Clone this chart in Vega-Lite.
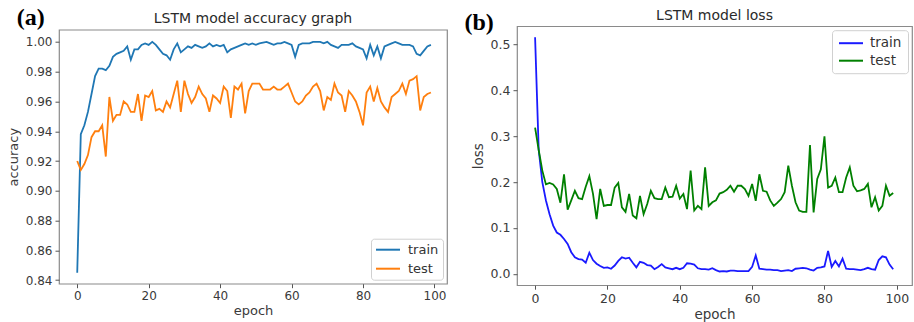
{
  "$schema": "https://vega.github.io/schema/vega-lite/v6.json",
  "background": "white",
  "padding": {"left": 6, "top": 6, "right": 0, "bottom": 0},
  "config": {
    "font": "DejaVu Sans",
    "view": {"stroke": "#8a8a8a", "strokeWidth": 1.2},
    "axis": {"domain": false, "grid": false, "tickColor": "#555555", "tickSize": 4, "tickWidth": 1, "labelColor": "#3a3a3a", "titleColor": "#3a3a3a", "labelFont": "DejaVu Sans", "titleFont": "DejaVu Sans", "titleFontWeight": "normal", "labelPadding": 3},
    "legend": {"symbolType": "M-1,0H3", "symbolStrokeWidth": 2, "symbolSize": 144, "labelFont": "DejaVu Sans", "labelColor": "#333333", "strokeColor": "#d0d0d0", "fillColor": "white", "cornerRadius": 3, "offset": 4, "title": null},
    "title": {"font": "DejaVu Sans", "fontWeight": "normal", "color": "#2a2a2a"},
    "concat": {"spacing": 16}
  },
  "datasets": {
    "accuracy": [
      {"epoch":0,"series":"train","value":0.845},{"epoch":1,"series":"train","value":0.938},{"epoch":2,"series":"train","value":0.944},{"epoch":3,"series":"train","value":0.953},{"epoch":4,"series":"train","value":0.965},{"epoch":5,"series":"train","value":0.977},{"epoch":6,"series":"train","value":0.982},{"epoch":7,"series":"train","value":0.982},{"epoch":8,"series":"train","value":0.981},{"epoch":9,"series":"train","value":0.984},
      {"epoch":10,"series":"train","value":0.990},{"epoch":11,"series":"train","value":0.992},{"epoch":12,"series":"train","value":0.993},{"epoch":13,"series":"train","value":0.994},{"epoch":14,"series":"train","value":0.997},{"epoch":15,"series":"train","value":0.988},{"epoch":16,"series":"train","value":0.995},{"epoch":17,"series":"train","value":0.995},{"epoch":18,"series":"train","value":0.998},{"epoch":19,"series":"train","value":0.999},
      {"epoch":20,"series":"train","value":0.998},{"epoch":21,"series":"train","value":1.000},{"epoch":22,"series":"train","value":0.998},{"epoch":23,"series":"train","value":0.995},{"epoch":24,"series":"train","value":0.992},{"epoch":25,"series":"train","value":0.991},{"epoch":26,"series":"train","value":0.988},{"epoch":27,"series":"train","value":0.995},{"epoch":28,"series":"train","value":0.999},{"epoch":29,"series":"train","value":0.993},
      {"epoch":30,"series":"train","value":0.995},{"epoch":31,"series":"train","value":0.997},{"epoch":32,"series":"train","value":0.996},{"epoch":33,"series":"train","value":0.998},{"epoch":34,"series":"train","value":0.997},{"epoch":35,"series":"train","value":0.996},{"epoch":36,"series":"train","value":0.997},{"epoch":37,"series":"train","value":0.999},{"epoch":38,"series":"train","value":0.997},{"epoch":39,"series":"train","value":0.998},
      {"epoch":40,"series":"train","value":0.997},{"epoch":41,"series":"train","value":0.998},{"epoch":42,"series":"train","value":0.993},{"epoch":43,"series":"train","value":0.995},{"epoch":44,"series":"train","value":0.996},{"epoch":45,"series":"train","value":0.997},{"epoch":46,"series":"train","value":0.998},{"epoch":47,"series":"train","value":0.999},{"epoch":48,"series":"train","value":0.998},{"epoch":49,"series":"train","value":0.999},
      {"epoch":50,"series":"train","value":0.998},{"epoch":51,"series":"train","value":0.999},{"epoch":52,"series":"train","value":0.9995},{"epoch":53,"series":"train","value":1.000},{"epoch":54,"series":"train","value":0.999},{"epoch":55,"series":"train","value":0.998},{"epoch":56,"series":"train","value":0.999},{"epoch":57,"series":"train","value":0.999},{"epoch":58,"series":"train","value":1.000},{"epoch":59,"series":"train","value":0.999},
      {"epoch":60,"series":"train","value":0.998},{"epoch":61,"series":"train","value":0.990},{"epoch":62,"series":"train","value":0.998},{"epoch":63,"series":"train","value":0.999},{"epoch":64,"series":"train","value":0.999},{"epoch":65,"series":"train","value":0.999},{"epoch":66,"series":"train","value":1.000},{"epoch":67,"series":"train","value":1.000},{"epoch":68,"series":"train","value":1.000},{"epoch":69,"series":"train","value":0.999},
      {"epoch":70,"series":"train","value":1.000},{"epoch":71,"series":"train","value":0.998},{"epoch":72,"series":"train","value":0.997},{"epoch":73,"series":"train","value":0.996},{"epoch":74,"series":"train","value":0.998},{"epoch":75,"series":"train","value":0.998},{"epoch":76,"series":"train","value":0.998},{"epoch":77,"series":"train","value":0.999},{"epoch":78,"series":"train","value":0.997},{"epoch":79,"series":"train","value":0.996},
      {"epoch":80,"series":"train","value":0.995},{"epoch":81,"series":"train","value":0.989},{"epoch":82,"series":"train","value":0.998},{"epoch":83,"series":"train","value":0.991},{"epoch":84,"series":"train","value":0.997},{"epoch":85,"series":"train","value":0.989},{"epoch":86,"series":"train","value":0.997},{"epoch":87,"series":"train","value":0.998},{"epoch":88,"series":"train","value":0.999},{"epoch":89,"series":"train","value":1.000},
      {"epoch":90,"series":"train","value":0.999},{"epoch":91,"series":"train","value":0.998},{"epoch":92,"series":"train","value":0.998},{"epoch":93,"series":"train","value":0.998},{"epoch":94,"series":"train","value":0.997},{"epoch":95,"series":"train","value":0.992},{"epoch":96,"series":"train","value":0.991},{"epoch":97,"series":"train","value":0.994},{"epoch":98,"series":"train","value":0.997},{"epoch":99,"series":"train","value":0.998},
      {"epoch":0,"series":"test","value":0.920},{"epoch":1,"series":"test","value":0.914},{"epoch":2,"series":"test","value":0.918},{"epoch":3,"series":"test","value":0.924},{"epoch":4,"series":"test","value":0.936},{"epoch":5,"series":"test","value":0.940},{"epoch":6,"series":"test","value":0.940},{"epoch":7,"series":"test","value":0.944},{"epoch":8,"series":"test","value":0.923},{"epoch":9,"series":"test","value":0.963},
      {"epoch":10,"series":"test","value":0.947},{"epoch":11,"series":"test","value":0.951},{"epoch":12,"series":"test","value":0.951},{"epoch":13,"series":"test","value":0.960},{"epoch":14,"series":"test","value":0.958},{"epoch":15,"series":"test","value":0.953},{"epoch":16,"series":"test","value":0.953},{"epoch":17,"series":"test","value":0.965},{"epoch":18,"series":"test","value":0.947},{"epoch":19,"series":"test","value":0.964},
      {"epoch":20,"series":"test","value":0.963},{"epoch":21,"series":"test","value":0.967},{"epoch":22,"series":"test","value":0.954},{"epoch":23,"series":"test","value":0.955},{"epoch":24,"series":"test","value":0.953},{"epoch":25,"series":"test","value":0.960},{"epoch":26,"series":"test","value":0.956},{"epoch":27,"series":"test","value":0.965},{"epoch":28,"series":"test","value":0.974},{"epoch":29,"series":"test","value":0.953},
      {"epoch":30,"series":"test","value":0.974},{"epoch":31,"series":"test","value":0.965},{"epoch":32,"series":"test","value":0.959},{"epoch":33,"series":"test","value":0.963},{"epoch":34,"series":"test","value":0.970},{"epoch":35,"series":"test","value":0.965},{"epoch":36,"series":"test","value":0.962},{"epoch":37,"series":"test","value":0.953},{"epoch":38,"series":"test","value":0.964},{"epoch":39,"series":"test","value":0.962},
      {"epoch":40,"series":"test","value":0.959},{"epoch":41,"series":"test","value":0.970},{"epoch":42,"series":"test","value":0.967},{"epoch":43,"series":"test","value":0.949},{"epoch":44,"series":"test","value":0.970},{"epoch":45,"series":"test","value":0.968},{"epoch":46,"series":"test","value":0.972},{"epoch":47,"series":"test","value":0.952},{"epoch":48,"series":"test","value":0.967},{"epoch":49,"series":"test","value":0.972},
      {"epoch":50,"series":"test","value":0.972},{"epoch":51,"series":"test","value":0.972},{"epoch":52,"series":"test","value":0.968},{"epoch":53,"series":"test","value":0.968},{"epoch":54,"series":"test","value":0.968},{"epoch":55,"series":"test","value":0.970},{"epoch":56,"series":"test","value":0.968},{"epoch":57,"series":"test","value":0.968},{"epoch":58,"series":"test","value":0.970},{"epoch":59,"series":"test","value":0.972},
      {"epoch":60,"series":"test","value":0.966},{"epoch":61,"series":"test","value":0.960},{"epoch":62,"series":"test","value":0.958},{"epoch":63,"series":"test","value":0.960},{"epoch":64,"series":"test","value":0.964},{"epoch":65,"series":"test","value":0.966},{"epoch":66,"series":"test","value":0.970},{"epoch":67,"series":"test","value":0.972},{"epoch":68,"series":"test","value":0.967},{"epoch":69,"series":"test","value":0.954},
      {"epoch":70,"series":"test","value":0.963},{"epoch":71,"series":"test","value":0.961},{"epoch":72,"series":"test","value":0.972},{"epoch":73,"series":"test","value":0.966},{"epoch":74,"series":"test","value":0.964},{"epoch":75,"series":"test","value":0.953},{"epoch":76,"series":"test","value":0.967},{"epoch":77,"series":"test","value":0.964},{"epoch":78,"series":"test","value":0.960},{"epoch":79,"series":"test","value":0.953},
      {"epoch":80,"series":"test","value":0.944},{"epoch":81,"series":"test","value":0.966},{"epoch":82,"series":"test","value":0.970},{"epoch":83,"series":"test","value":0.960},{"epoch":84,"series":"test","value":0.969},{"epoch":85,"series":"test","value":0.960},{"epoch":86,"series":"test","value":0.956},{"epoch":87,"series":"test","value":0.953},{"epoch":88,"series":"test","value":0.963},{"epoch":89,"series":"test","value":0.965},
      {"epoch":90,"series":"test","value":0.967},{"epoch":91,"series":"test","value":0.972},{"epoch":92,"series":"test","value":0.965},{"epoch":93,"series":"test","value":0.974},{"epoch":94,"series":"test","value":0.975},{"epoch":95,"series":"test","value":0.977},{"epoch":96,"series":"test","value":0.954},{"epoch":97,"series":"test","value":0.963},{"epoch":98,"series":"test","value":0.965},{"epoch":99,"series":"test","value":0.966}
    ],
    "loss": [
      {"epoch":0,"series":"train","value":0.516},{"epoch":1,"series":"train","value":0.270},{"epoch":2,"series":"train","value":0.200},{"epoch":3,"series":"train","value":0.160},{"epoch":4,"series":"train","value":0.130},{"epoch":5,"series":"train","value":0.105},{"epoch":6,"series":"train","value":0.090},{"epoch":7,"series":"train","value":0.085},{"epoch":8,"series":"train","value":0.076},{"epoch":9,"series":"train","value":0.065},
      {"epoch":10,"series":"train","value":0.047},{"epoch":11,"series":"train","value":0.036},{"epoch":12,"series":"train","value":0.032},{"epoch":13,"series":"train","value":0.031},{"epoch":14,"series":"train","value":0.024},{"epoch":15,"series":"train","value":0.046},{"epoch":16,"series":"train","value":0.030},{"epoch":17,"series":"train","value":0.022},{"epoch":18,"series":"train","value":0.017},{"epoch":19,"series":"train","value":0.013},
      {"epoch":20,"series":"train","value":0.014},{"epoch":21,"series":"train","value":0.011},{"epoch":22,"series":"train","value":0.018},{"epoch":23,"series":"train","value":0.028},{"epoch":24,"series":"train","value":0.036},{"epoch":25,"series":"train","value":0.033},{"epoch":26,"series":"train","value":0.035},{"epoch":27,"series":"train","value":0.024},{"epoch":28,"series":"train","value":0.014},{"epoch":29,"series":"train","value":0.026},
      {"epoch":30,"series":"train","value":0.024},{"epoch":31,"series":"train","value":0.019},{"epoch":32,"series":"train","value":0.018},{"epoch":33,"series":"train","value":0.010},{"epoch":34,"series":"train","value":0.015},{"epoch":35,"series":"train","value":0.021},{"epoch":36,"series":"train","value":0.014},{"epoch":37,"series":"train","value":0.012},{"epoch":38,"series":"train","value":0.010},{"epoch":39,"series":"train","value":0.013},
      {"epoch":40,"series":"train","value":0.010},{"epoch":41,"series":"train","value":0.013},{"epoch":42,"series":"train","value":0.023},{"epoch":43,"series":"train","value":0.022},{"epoch":44,"series":"train","value":0.020},{"epoch":45,"series":"train","value":0.012},{"epoch":46,"series":"train","value":0.010},{"epoch":47,"series":"train","value":0.010},{"epoch":48,"series":"train","value":0.009},{"epoch":49,"series":"train","value":0.012},
      {"epoch":50,"series":"train","value":0.008},{"epoch":51,"series":"train","value":0.005},{"epoch":52,"series":"train","value":0.006},{"epoch":53,"series":"train","value":0.005},{"epoch":54,"series":"train","value":0.007},{"epoch":55,"series":"train","value":0.007},{"epoch":56,"series":"train","value":0.006},{"epoch":57,"series":"train","value":0.006},{"epoch":58,"series":"train","value":0.006},{"epoch":59,"series":"train","value":0.006},
      {"epoch":60,"series":"train","value":0.015},{"epoch":61,"series":"train","value":0.040},{"epoch":62,"series":"train","value":0.011},{"epoch":63,"series":"train","value":0.010},{"epoch":64,"series":"train","value":0.009},{"epoch":65,"series":"train","value":0.009},{"epoch":66,"series":"train","value":0.008},{"epoch":67,"series":"train","value":0.008},{"epoch":68,"series":"train","value":0.006},{"epoch":69,"series":"train","value":0.007},
      {"epoch":70,"series":"train","value":0.008},{"epoch":71,"series":"train","value":0.006},{"epoch":72,"series":"train","value":0.011},{"epoch":73,"series":"train","value":0.012},{"epoch":74,"series":"train","value":0.013},{"epoch":75,"series":"train","value":0.012},{"epoch":76,"series":"train","value":0.009},{"epoch":77,"series":"train","value":0.007},{"epoch":78,"series":"train","value":0.013},{"epoch":79,"series":"train","value":0.014},
      {"epoch":80,"series":"train","value":0.016},{"epoch":81,"series":"train","value":0.050},{"epoch":82,"series":"train","value":0.015},{"epoch":83,"series":"train","value":0.028},{"epoch":84,"series":"train","value":0.016},{"epoch":85,"series":"train","value":0.033},{"epoch":86,"series":"train","value":0.011},{"epoch":87,"series":"train","value":0.010},{"epoch":88,"series":"train","value":0.010},{"epoch":89,"series":"train","value":0.009},
      {"epoch":90,"series":"train","value":0.008},{"epoch":91,"series":"train","value":0.010},{"epoch":92,"series":"train","value":0.013},{"epoch":93,"series":"train","value":0.010},{"epoch":94,"series":"train","value":0.009},{"epoch":95,"series":"train","value":0.030},{"epoch":96,"series":"train","value":0.038},{"epoch":97,"series":"train","value":0.036},{"epoch":98,"series":"train","value":0.020},{"epoch":99,"series":"train","value":0.010},
      {"epoch":0,"series":"test","value":0.319},{"epoch":1,"series":"test","value":0.270},{"epoch":2,"series":"test","value":0.225},{"epoch":3,"series":"test","value":0.195},{"epoch":4,"series":"test","value":0.198},{"epoch":5,"series":"test","value":0.195},{"epoch":6,"series":"test","value":0.185},{"epoch":7,"series":"test","value":0.155},{"epoch":8,"series":"test","value":0.217},{"epoch":9,"series":"test","value":0.140},
      {"epoch":10,"series":"test","value":0.160},{"epoch":11,"series":"test","value":0.181},{"epoch":12,"series":"test","value":0.165},{"epoch":13,"series":"test","value":0.163},{"epoch":14,"series":"test","value":0.190},{"epoch":15,"series":"test","value":0.213},{"epoch":16,"series":"test","value":0.175},{"epoch":17,"series":"test","value":0.119},{"epoch":18,"series":"test","value":0.185},{"epoch":19,"series":"test","value":0.148},
      {"epoch":20,"series":"test","value":0.150},{"epoch":21,"series":"test","value":0.150},{"epoch":22,"series":"test","value":0.188},{"epoch":23,"series":"test","value":0.198},{"epoch":24,"series":"test","value":0.145},{"epoch":25,"series":"test","value":0.135},{"epoch":26,"series":"test","value":0.174},{"epoch":27,"series":"test","value":0.127},{"epoch":28,"series":"test","value":0.121},{"epoch":29,"series":"test","value":0.170},
      {"epoch":30,"series":"test","value":0.130},{"epoch":31,"series":"test","value":0.152},{"epoch":32,"series":"test","value":0.181},{"epoch":33,"series":"test","value":0.165},{"epoch":34,"series":"test","value":0.163},{"epoch":35,"series":"test","value":0.163},{"epoch":36,"series":"test","value":0.188},{"epoch":37,"series":"test","value":0.167},{"epoch":38,"series":"test","value":0.168},{"epoch":39,"series":"test","value":0.192},
      {"epoch":40,"series":"test","value":0.164},{"epoch":41,"series":"test","value":0.174},{"epoch":42,"series":"test","value":0.141},{"epoch":43,"series":"test","value":0.225},{"epoch":44,"series":"test","value":0.138},{"epoch":45,"series":"test","value":0.148},{"epoch":46,"series":"test","value":0.141},{"epoch":47,"series":"test","value":0.232},{"epoch":48,"series":"test","value":0.148},{"epoch":49,"series":"test","value":0.156},
      {"epoch":50,"series":"test","value":0.160},{"epoch":51,"series":"test","value":0.175},{"epoch":52,"series":"test","value":0.178},{"epoch":53,"series":"test","value":0.183},{"epoch":54,"series":"test","value":0.192},{"epoch":55,"series":"test","value":0.179},{"epoch":56,"series":"test","value":0.192},{"epoch":57,"series":"test","value":0.192},{"epoch":58,"series":"test","value":0.185},{"epoch":59,"series":"test","value":0.170},
      {"epoch":60,"series":"test","value":0.196},{"epoch":61,"series":"test","value":0.159},{"epoch":62,"series":"test","value":0.217},{"epoch":63,"series":"test","value":0.181},{"epoch":64,"series":"test","value":0.179},{"epoch":65,"series":"test","value":0.160},{"epoch":66,"series":"test","value":0.148},{"epoch":67,"series":"test","value":0.155},{"epoch":68,"series":"test","value":0.163},{"epoch":69,"series":"test","value":0.178},
      {"epoch":70,"series":"test","value":0.236},{"epoch":71,"series":"test","value":0.192},{"epoch":72,"series":"test","value":0.156},{"epoch":73,"series":"test","value":0.138},{"epoch":74,"series":"test","value":0.135},{"epoch":75,"series":"test","value":0.135},{"epoch":76,"series":"test","value":0.281},{"epoch":77,"series":"test","value":0.134},{"epoch":78,"series":"test","value":0.207},{"epoch":79,"series":"test","value":0.228},
      {"epoch":80,"series":"test","value":0.300},{"epoch":81,"series":"test","value":0.188},{"epoch":82,"series":"test","value":0.192},{"epoch":83,"series":"test","value":0.210},{"epoch":84,"series":"test","value":0.178},{"epoch":85,"series":"test","value":0.178},{"epoch":86,"series":"test","value":0.210},{"epoch":87,"series":"test","value":0.232},{"epoch":88,"series":"test","value":0.192},{"epoch":89,"series":"test","value":0.180},
      {"epoch":90,"series":"test","value":0.182},{"epoch":91,"series":"test","value":0.185},{"epoch":92,"series":"test","value":0.196},{"epoch":93,"series":"test","value":0.145},{"epoch":94,"series":"test","value":0.167},{"epoch":95,"series":"test","value":0.138},{"epoch":96,"series":"test","value":0.148},{"epoch":97,"series":"test","value":0.192},{"epoch":98,"series":"test","value":0.170},{"epoch":99,"series":"test","value":0.176}
    ]
  },
  "resolve": {"scale": {"color": "independent"}, "legend": {"color": "independent"}},
  "center": true,
  "hconcat": [
    {
      "title": {"text": "(a)", "anchor": "start", "font": "Liberation Serif", "fontSize": 24, "fontWeight": "bold", "color": "#000000", "dx": 10, "dy": 19, "offset": 0},
      "resolve": {"scale": {"color": "independent"}, "legend": {"color": "independent"}},
      "vconcat": [
        {
          "width": 388,
          "height": 254,
          "title": {"text": "LSTM model accuracy graph", "fontSize": 14, "offset": 4},
          "data": {"name": "accuracy"},
          "mark": {"type": "line", "strokeWidth": 1.8, "clip": true},
          "encoding": {
            "x": {"field": "epoch", "type": "quantitative", "scale": {"domain": [-5.1, 103.5], "nice": false, "zero": false},
                  "axis": {"values": [0, 20, 40, 60, 80, 100], "title": "epoch", "labelFontSize": 12, "titleFontSize": 13, "titlePadding": 3}},
            "y": {"field": "value", "type": "quantitative", "scale": {"domain": [0.8376, 1.0082], "nice": false, "zero": false},
                  "axis": {"values": [0.84, 0.86, 0.88, 0.9, 0.92, 0.94, 0.96, 0.98, 1.0], "format": ".2f", "title": "accuracy", "labelFontSize": 12, "titleFontSize": 13, "titlePadding": 5}},
            "color": {"field": "series", "type": "nominal", "scale": {"domain": ["train", "test"], "range": ["#1f77b4", "#ff7f0e"]},
                      "legend": {"orient": "bottom-right", "labelFontSize": 13, "padding": 4, "rowPadding": 5, "labelOffset": 19}}
          }
        }
      ]
    },
    {
      "title": {"text": "(b)", "anchor": "start", "font": "Liberation Serif", "fontSize": 24, "fontWeight": "bold", "color": "#000000", "dx": -6, "dy": 26, "offset": 0},
      "resolve": {"scale": {"color": "independent"}, "legend": {"color": "independent"}},
      "vconcat": [
        {
          "width": 395,
          "height": 259,
          "title": {"text": "LSTM model loss", "fontSize": 14, "offset": 3},
          "data": {"name": "loss"},
          "mark": {"type": "line", "strokeWidth": 1.8, "clip": true},
          "encoding": {
            "x": {"field": "epoch", "type": "quantitative", "scale": {"domain": [-5.0, 104.2], "nice": false, "zero": false},
                  "axis": {"values": [0, 20, 40, 60, 80, 100], "title": "epoch", "labelFontSize": 12.5, "titleFontSize": 13.5, "titlePadding": 3}},
            "y": {"field": "value", "type": "quantitative", "scale": {"domain": [-0.0249, 0.54], "nice": false, "zero": false},
                  "axis": {"values": [0, 0.1, 0.2, 0.3, 0.4, 0.5], "format": ".1f", "title": "loss", "labelFontSize": 12.5, "titleFontSize": 13.5, "titlePadding": 5}},
            "color": {"field": "series", "type": "nominal", "scale": {"domain": ["train", "test"], "range": ["#1a1aff", "#008000"]},
                      "legend": {"orient": "top-right", "labelFontSize": 13.5, "padding": 6, "rowPadding": 3.5, "labelOffset": 18}}
          }
        }
      ]
    }
  ]
}
